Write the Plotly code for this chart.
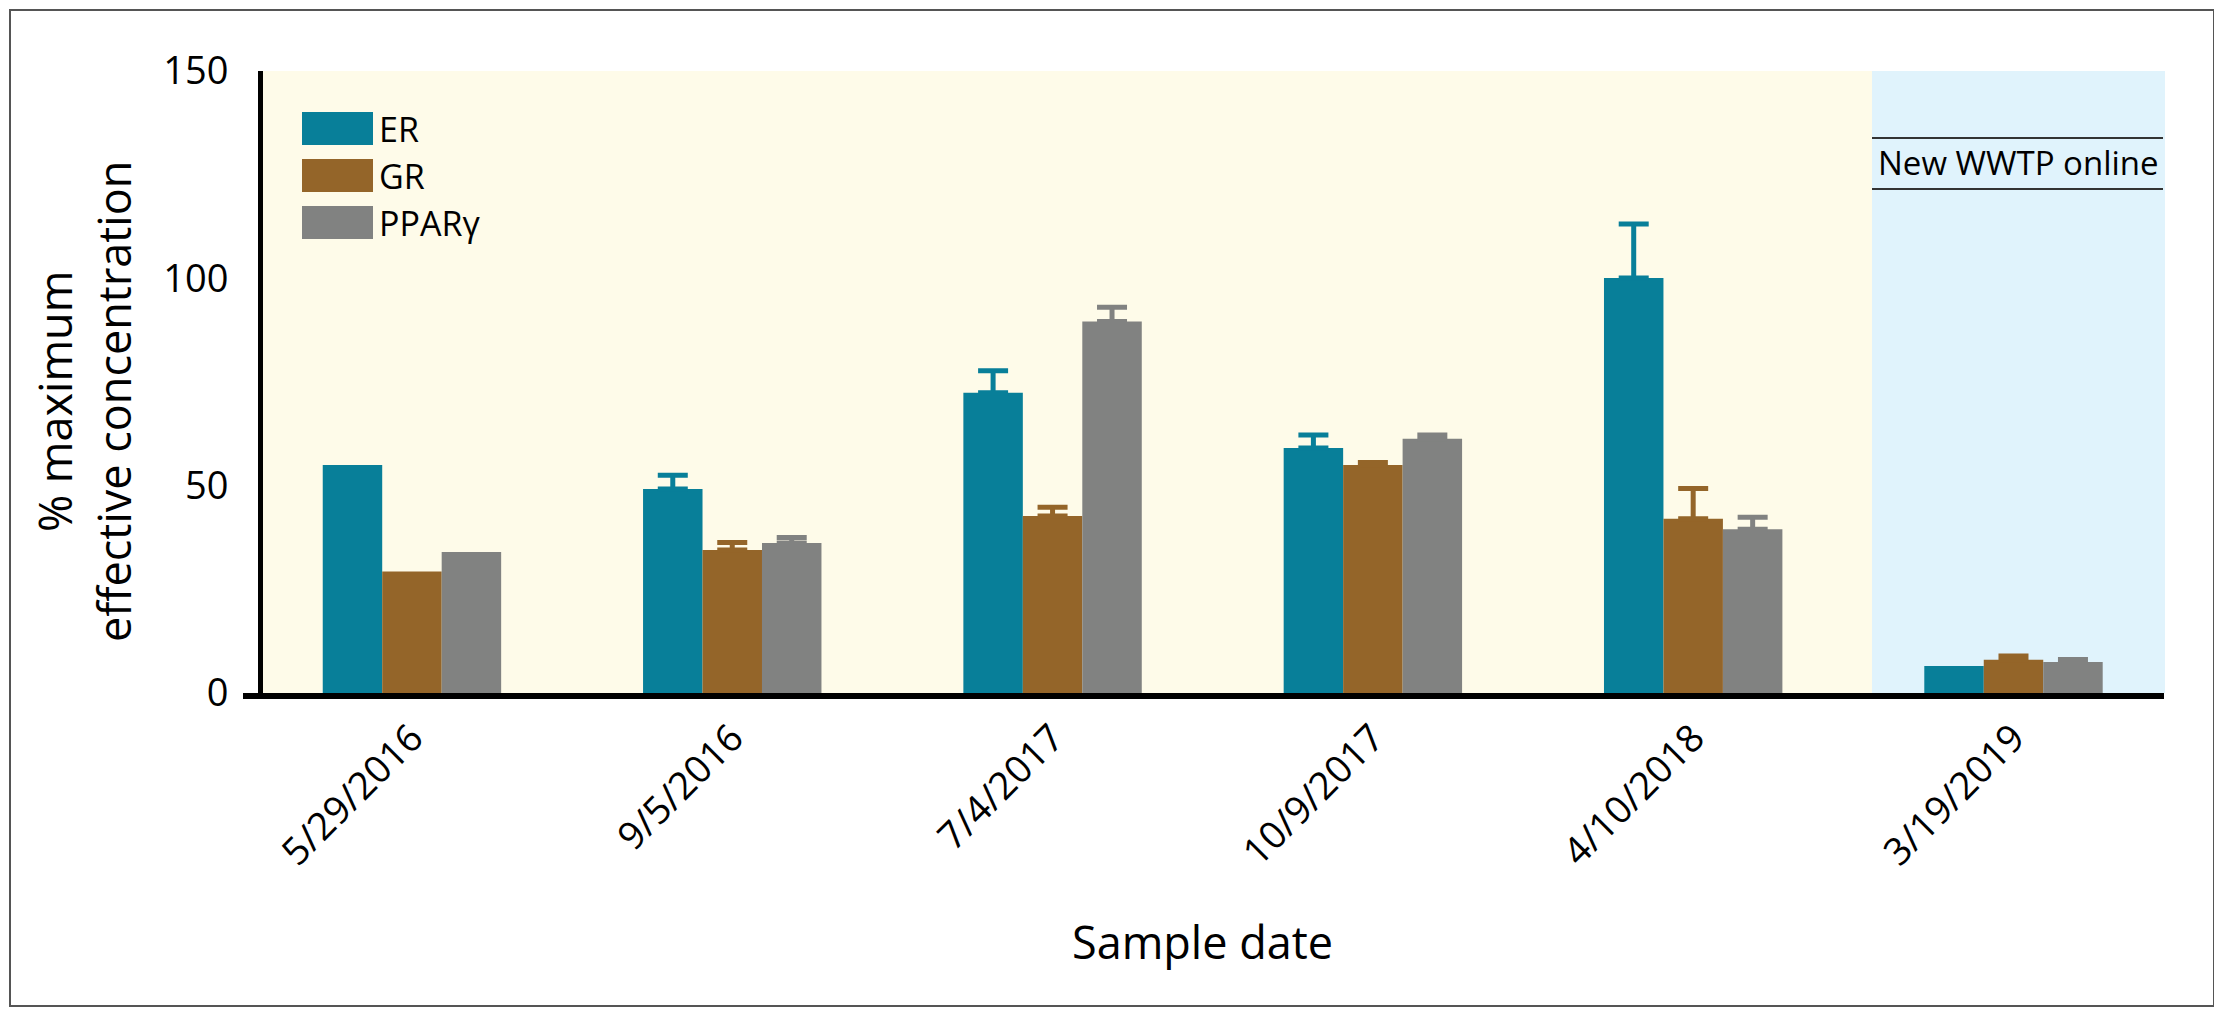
import numpy as np
import plotly.graph_objects as go

# ---- data ----
sample_dates = ["5/29/2016", "9/5/2016", "7/4/2017", "10/9/2017", "4/10/2018", "3/19/2019"]
series_names = ["ER", "GR", "PPARγ"]
er_values = [55.0, 49.2, 72.4, 59.1, 100.1, 6.5]
gr_values = [29.3, 34.5, 42.7, 55.0, 42.0, 8.0]
ppar_values = [34.0, 36.2, 89.6, 61.3, 39.5, 7.5]
er_errors = [None, 3.3, 5.3, 3.1, 13.0, None]
gr_errors = [None, 1.8, 2.1, 0.6, 7.3, 0.9]
ppar_errors = [None, 1.3, 3.4, 0.9, 2.9, 0.6]
y_ticks = [0, 50, 100, 150]

# ---- style ----
colors = ["#087F99", "#946529", "#818281"]
FONT = "Open Sans, Noto Sans, DejaVu Sans, sans-serif"
W, H = 2222, 1013
OFF = 8                            # default page body margin
L, R, T, B = 263, 2165, 71, 693   # plot area in page pixels
PW, PH = R - L, B - T


def px(x):
    return (x - L) / PW


def py(y):
    return (B - y) / PH


fig = go.Figure()
for name, vals, errs, col in zip(series_names,
                                 [er_values, gr_values, ppar_values],
                                 [er_errors, gr_errors, ppar_errors],
                                 colors):
    plus = np.array([np.nan if e is None else e for e in errs], dtype=float)
    minus = np.where(np.isnan(plus), np.nan, 0.0)
    fig.add_trace(go.Bar(
        x=sample_dates, y=vals, name=name,
        marker=dict(color=col, line=dict(width=0)),
        error_y=dict(type="data", array=plus, arrayminus=minus, symmetric=False,
                     color=col, thickness=5, width=15),
        showlegend=False,
    ))

shapes = []
# light-blue region after new WWTP
shapes.append(dict(type="rect", xref="paper", yref="paper",
                   x0=px(1872), x1=1, y0=0, y1=1,
                   fillcolor="#E0F3FC", line=dict(width=0), layer="below"))
# x axis line extending slightly left of y axis
shapes.append(dict(type="line", xref="paper", yref="paper",
                   x0=px(243), x1=px(2164), y0=py(696), y1=py(696),
                   line=dict(color="black", width=6), layer="above"))
# annotation lines
for yy in (138, 189):
    shapes.append(dict(type="line", xref="paper", yref="paper",
                       x0=px(1872), x1=px(2163), y0=py(yy), y1=py(yy),
                       line=dict(color="#333333", width=2)))
# outer frame
shapes.append(dict(type="rect", xref="paper", yref="paper",
                   x0=px(10), x1=px(2214), y0=py(1006), y1=py(10),
                   line=dict(color="#555555", width=2), fillcolor="rgba(0,0,0,0)"))

annotations = []
# custom legend
leg_tops = [112, 159, 206]
for name, col, top in zip(series_names, colors, leg_tops):
    shapes.append(dict(type="rect", xref="paper", yref="paper",
                       x0=px(302), x1=px(373), y0=py(top + 33), y1=py(top),
                       fillcolor=col, line=dict(width=0)))
    annotations.append(dict(text=name, xref="paper", yref="paper",
                            x=px(377), y=py(top + 17), xanchor="left", yanchor="middle",
                            showarrow=False, font=dict(family=FONT, size=34, color="black")))

annotations.append(dict(text="New WWTP online", xref="paper", yref="paper",
                        x=px(2018), y=py(163), xanchor="center", yanchor="middle",
                        showarrow=False, font=dict(family=FONT, size=33, color="black")))
annotations.append(dict(text="% maximum<br>effective concentration", xref="paper", yref="paper",
                        x=px(84), y=py(402), xanchor="center", yanchor="middle",
                        textangle=-90, showarrow=False,
                        font=dict(family=FONT, size=45, color="black")))
annotations.append(dict(text="Sample date", xref="paper", yref="paper",
                        x=px(1202), y=py(941), xanchor="center", yanchor="middle",
                        showarrow=False, font=dict(family=FONT, size=45, color="black")))

fig.update_layout(
    width=W - OFF, height=H - OFF,
    margin=dict(l=L - OFF, r=W - R, t=T - OFF, b=H - B, pad=0),
    paper_bgcolor="white", plot_bgcolor="#FEFBE9",
    barmode="group", bargap=0.443, bargroupgap=0,
    font=dict(family=FONT, color="black"),
    shapes=shapes, annotations=annotations,
    xaxis=dict(type="category", range=[-0.465, 5.473], showline=False,
               showgrid=False, zeroline=False, ticks="", tickangle=-45,
               tickfont=dict(family=FONT, size=38, color="black"),
               ticklabelstandoff=14),
    yaxis=dict(range=[0, 150], tickvals=y_ticks, showline=True, linewidth=5,
               linecolor="black", showgrid=False, zeroline=False, ticks="",
               tickfont=dict(family=FONT, size=38, color="black"),
               ticklabelstandoff=22),
)

fig.write_html("out.html")
